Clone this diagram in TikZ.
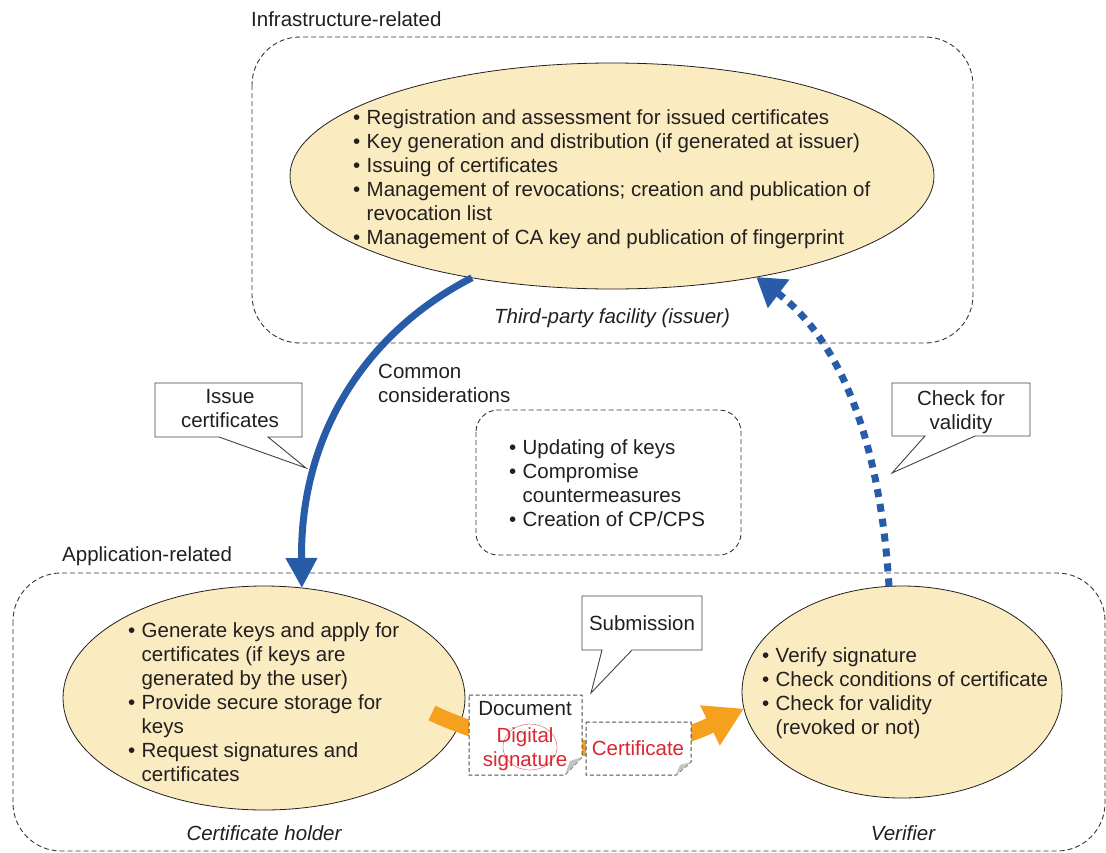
\documentclass[tikz,border=0pt]{standalone}
\usepackage{fontspec}
\setmainfont{Liberation Sans}
\usetikzlibrary{arrows.meta,shapes.geometric}

\definecolor{ellfill}{RGB}{250,235,192}
\definecolor{arrblue}{RGB}{40,92,168}
\definecolor{arrorange}{RGB}{245,160,30}
\definecolor{sigred}{RGB}{218,38,48}
\definecolor{ink}{RGB}{35,31,32}
\definecolor{foldgray}{RGB}{195,195,195}

% bullet with a fixed-width box, and the matching hanging indent
\newcommand\bl{\makebox[13.5pt][l]{\textbullet}}
\newcommand\hang{\hspace*{13.5pt}}

\begin{document}
\begin{tikzpicture}[x=1pt,y=-1pt,
  font=\fontsize{20.5}{24}\selectfont, text=ink,
  region/.style={draw=ink!90, line width=0.9pt, dash pattern=on 5pt off 3pt, rounded corners=#1},
  role/.style={ellipse, draw=ink, line width=0.8pt, fill=ellfill, inner sep=0pt, outer sep=0pt},
  list/.style={align=left, inner sep=0pt, anchor=north west},
  lbl/.style={inner sep=0pt, anchor=base west},
  rolename/.style={inner sep=0pt, anchor=base, font=\fontsize{20.5}{24}\selectfont\itshape},
  callout/.style={draw=ink!85, fill=white, line width=0.9pt, line join=miter},
  calltext/.style={align=center, inner sep=0pt, anchor=north},
  page/.style={fill=white, draw=ink!80, line width=1pt, dash pattern=on 4pt off 2.5pt},
  issuearrow/.style={draw=arrblue, line width=7pt, -{Triangle[length=30pt,width=30pt]}},
  checkarrow/.style={draw=arrblue, line width=7pt, dash pattern=on 8pt off 7pt, -{Triangle[length=28pt,width=34pt]}},
  sendarrow/.style={draw=arrorange, line width=16pt, -{Triangle[length=38pt,width=42pt]}}
]
\useasboundingbox (0,0) rectangle (1106,852);

% dashed regions
\draw[region=48pt] (252,37) rectangle (973,343);
\draw[region=48pt] (13,573) rectangle (1105,851);
\draw[region=22pt] (476,410) rectangle (741,555);

\node[lbl] (infra) at (251,26) {Infrastructure-related};
\node[lbl] (appl) at (62,561) {Application-related};
\node[lbl, align=left, anchor=north west] (common) at (378,364) {Common\\considerations};

% roles
\node[role, minimum width=644pt, minimum height=226pt] (issuer) at (612,176) {};
\node[role, minimum width=402pt, minimum height=224pt] (holder) at (264,698) {};
\node[role, minimum width=320pt, minimum height=212pt] (verifier) at (902,692) {};

\node[list] (issuertext) at (353,109) {\bl Registration and assessment for issued certificates\\
\bl Key generation and distribution (if generated at issuer)\\
\bl Issuing of certificates\\
\bl Management of revocations; creation and publication of\\
\hang revocation list\\
\bl Management of CA key and publication of fingerprint};

\node[list] (holdertext) at (128,622) {\bl Generate keys and apply for\\
\hang certificates (if keys are\\
\hang generated by the user)\\
\bl Provide secure storage for\\
\hang keys\\
\bl Request signatures and\\
\hang certificates};

\node[list] (verifiertext) at (762,647) {\bl Verify signature\\
\bl Check conditions of certificate\\
\bl Check for validity\\
\hang (revoked or not)};

\node[list] (commontext) at (509,439) {\bl Updating of keys\\
\bl Compromise\\
\hang countermeasures\\
\bl Creation of CP/CPS};

\node[rolename] (issuername) at (612,323) {Third-party facility (issuer)};
\node[rolename] (holdername) at (264,840) {Certificate holder};
\node[rolename] (verifiername) at (903,840) {Verifier};

% flows between the roles
\draw[issuearrow] (issuer.216) .. controls (370,330) and (300,430) .. (holder.71);
\draw[checkarrow] (verifier.97) .. controls (880,440) and (840,340) .. (issuer.325);

\coordinate (sendstart) at (432,713);
\draw[sendarrow] (sendstart) .. controls (520,755) and (640,760) .. (verifier.186);

% signed document and certificate
\draw[page] (469,695) -- (582,695) -- (582,757) -- (565,775) -- (469,775) -- cycle;
\fill[foldgray] (582,757) -- (565,775) -- (570,761) -- cycle;
\draw[page] (586,722) -- (691,722) -- (691,762) -- (676,775) -- (586,775) -- cycle;
\fill[foldgray] (691,762) -- (676,775) -- (680,765) -- cycle;

\node[calltext] (doctitle) at (525,701) {Document};
\draw[sigred!60, line width=0.6pt] (530,747) ellipse [x radius=27, y radius=23];
\node[calltext, text=sigred] (sig) at (525,727) {Digital\\signature};
\node[calltext, text=sigred] (cert) at (638,740) {Certificate};

% callouts
\draw[callout] (155,383) -- (302,383) -- (302,437) -- (268,437) -- (306,468) -- (219,437) -- (155,437) -- cycle;
\node[calltext] (issuelbl) at (230,389) {Issue\\certificates};

\draw[callout] (892,383) -- (1030,383) -- (1030,436) -- (975,436) -- (892,473) -- (925,436) -- (892,436) -- cycle;
\node[calltext] (checklbl) at (961,390) {Check for\\validity};

\draw[callout] (582,596) -- (702,596) -- (702,650) -- (632,650) -- (591,693) -- (602,650) -- (582,650) -- cycle;
\node[calltext] (sublbl) at (642,615) {Submission};
\end{tikzpicture}
\end{document}
